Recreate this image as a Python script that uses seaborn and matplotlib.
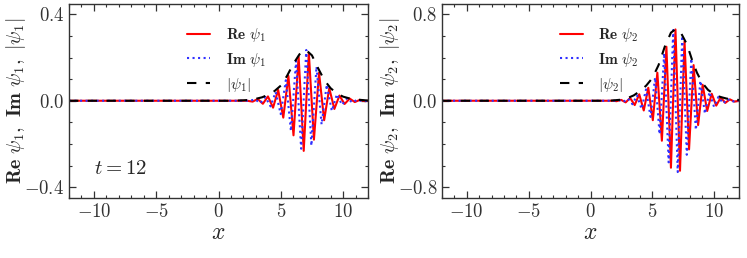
import numpy as np
import pandas as pd
import matplotlib
matplotlib.use("Agg")
import matplotlib.pyplot as plt
import seaborn as sns
from matplotlib.ticker import AutoMinorLocator, FuncFormatter, MultipleLocator

# ---- panel 1 (psi_1): turning points ----
re1_x = [-12.0, 2.30, 2.74, 3.15, 3.56, 3.97, 4.38, 4.79, 5.20, 5.61, 6.02, 6.43, 6.84,
         7.25, 7.66, 8.07, 8.48, 8.89, 9.30, 9.71, 10.12, 10.53, 10.94, 11.35, 11.76, 12.0]
re1_y = [0.0, 0.0, -0.004, 0.008, -0.014, 0.020, -0.032, 0.050, -0.078, 0.115, -0.160, 0.205, -0.232,
         0.222, -0.180, 0.130, -0.090, 0.058, -0.038, 0.024, -0.015, 0.010, -0.006, 0.004, -0.002, 0.0]

im1_x = [-12.0, 2.50, 2.945, 3.355, 3.765, 4.175, 4.585, 4.995, 5.405, 5.815, 6.225, 6.635, 7.045,
         7.455, 7.865, 8.275, 8.685, 9.095, 9.505, 9.915, 10.325, 10.735, 11.145, 11.555, 12.0]
im1_y = [0.0, 0.0, 0.006, -0.011, 0.017, -0.026, 0.040, -0.062, 0.095, -0.140, 0.185, -0.222, 0.235,
         -0.208, 0.158, -0.110, 0.074, -0.047, 0.030, -0.019, 0.012, -0.008, 0.005, -0.003, 0.0]

abs1_x = [-12.0, 1.0, 2.0, 2.5, 3.0, 3.5, 4.0, 4.5, 5.0, 5.5, 6.0, 6.5, 7.0, 7.5, 8.0, 8.5,
          9.0, 9.5, 10.0, 10.5, 11.0, 12.0]
abs1_y = [0.0, 0.0, 0.002, 0.004, 0.009, 0.016, 0.028, 0.045, 0.070, 0.115, 0.170, 0.215, 0.236,
          0.210, 0.150, 0.095, 0.058, 0.034, 0.019, 0.011, 0.006, 0.001]

# ---- panel 2 (psi_2) ----
re2_x = [-12.0, 1.80, 2.108, 2.474, 2.840, 3.206, 3.572, 3.938, 4.304, 4.670, 5.036, 5.402, 5.768,
         6.134, 6.500, 6.866, 7.232, 7.598, 7.964, 8.330, 8.696, 9.062, 9.428, 9.794, 10.160,
         10.526, 10.892, 11.258, 11.624, 12.0]
re2_y = [0.0, 0.0, -0.004, 0.008, -0.015, 0.025, -0.040, 0.060, -0.090, 0.120, -0.180, 0.260, -0.370,
         0.500, -0.620, 0.660, -0.648, 0.550, -0.450, 0.330, -0.225, 0.148, -0.095, 0.065, -0.045,
         0.030, -0.020, 0.013, -0.008, 0.0]

im2_x = [-12.0, 1.95, 2.291, 2.657, 3.023, 3.389, 3.755, 4.121, 4.487, 4.853, 5.219, 5.585, 5.951,
         6.317, 6.683, 7.049, 7.415, 7.781, 8.147, 8.513, 8.879, 9.245, 9.611, 9.977, 10.343,
         10.709, 11.075, 11.441, 11.807, 12.0]
im2_y = [0.0, 0.0, 0.006, -0.011, 0.020, -0.032, 0.050, -0.075, 0.105, -0.150, 0.215, -0.310, 0.440,
         -0.570, 0.655, -0.660, 0.600, -0.500, 0.390, -0.270, 0.185, -0.120, 0.080, -0.055, 0.037,
         -0.025, 0.016, -0.010, 0.006, 0.0]

abs2_x = [-12.0, 1.5, 2.5, 3.0, 3.5, 4.0, 4.5, 5.0, 5.5, 6.0, 6.5, 6.9, 7.3, 7.8, 8.2, 8.6,
          9.0, 9.5, 10.0, 10.5, 11.0, 11.5, 12.0]
abs2_y = [0.0, 0.0, 0.010, 0.025, 0.050, 0.090, 0.140, 0.210, 0.330, 0.500, 0.630, 0.665, 0.630,
          0.520, 0.380, 0.260, 0.170, 0.100, 0.060, 0.035, 0.020, 0.012, 0.007]

panels = [
    dict(idx="1", re=(re1_x, re1_y), im=(im1_x, im1_y), ab=(abs1_x, abs1_y), lim=0.45, major=0.4),
    dict(idx="2", re=(re2_x, re2_y), im=(im2_x, im2_y), ab=(abs2_x, abs2_y), lim=0.9, major=0.8),
]

sns.set_style("ticks")
plt.rcParams["mathtext.fontset"] = "cm"
plt.rcParams["font.family"] = ["DejaVu Serif"]

fig = plt.figure(figsize=(7.47, 2.58), dpi=100)
rects = [[69 / 747, 60 / 258, 299 / 747, 194.5 / 258],
         [442 / 747, 60 / 258, 297 / 747, 194.5 / 258]]

for rect, p in zip(rects, panels):
    ax = fig.add_axes(rect)
    k = p["idx"]
    sns.lineplot(x=p["re"][0], y=p["re"][1], ax=ax, color="red", lw=1.5, linestyle="-",
                 estimator=None, sort=False, label=rf"$\mathbf{{Re}}\ \psi_{k}$")
    sns.lineplot(x=p["im"][0], y=p["im"][1], ax=ax, color="#3030ff", lw=1.5, linestyle=":",
                 estimator=None, sort=False, label=rf"$\mathbf{{Im}}\ \psi_{k}$")
    sns.lineplot(x=p["ab"][0], y=p["ab"][1], ax=ax, color="black", lw=1.5, linestyle=(0, (4.5, 4.5)),
                 estimator=None, sort=False, label=rf"$|\psi_{k}|$")

    ax.set_xlim(-12, 12)
    ax.set_ylim(-p["lim"], p["lim"])
    ax.xaxis.set_major_locator(MultipleLocator(5))
    ax.xaxis.set_minor_locator(AutoMinorLocator(5))
    ax.yaxis.set_major_locator(MultipleLocator(p["major"]))
    ax.yaxis.set_minor_locator(AutoMinorLocator(4))
    ax.xaxis.set_major_formatter(FuncFormatter(lambda v, pos: rf"${v:g}$"))
    ax.yaxis.set_major_formatter(FuncFormatter(lambda v, pos: rf"${v:.1f}$"))
    ax.tick_params(which="both", direction="in", top=True, right=True, labelsize=13.5,
                   colors="#333333", labelcolor="#333333")
    ax.tick_params(which="major", length=5, width=0.9)
    ax.tick_params(which="minor", length=2.5, width=0.8)
    for s in ax.spines.values():
        s.set_color("#333333")
        s.set_linewidth(1.0)

    ax.set_xlabel(r"$x$", fontsize=17, labelpad=0)
    ax.set_ylabel(rf"$\mathbf{{Re}}\ \psi_{k},\ \mathbf{{Im}}\ \psi_{k},\ |\psi_{k}|$",
                  fontsize=14.5, labelpad=-3)
    ax.legend(loc="upper left", bbox_to_anchor=(0.36, 0.94), frameon=False, fontsize=11,
              handlelength=1.5, handletextpad=1.0, labelspacing=0.45, borderpad=0.2)

    if k == "1":
        ax.text(-10, -0.315, r"$t = 12$", fontsize=15, ha="left", va="center")

fig.savefig("out.png", dpi=100)
